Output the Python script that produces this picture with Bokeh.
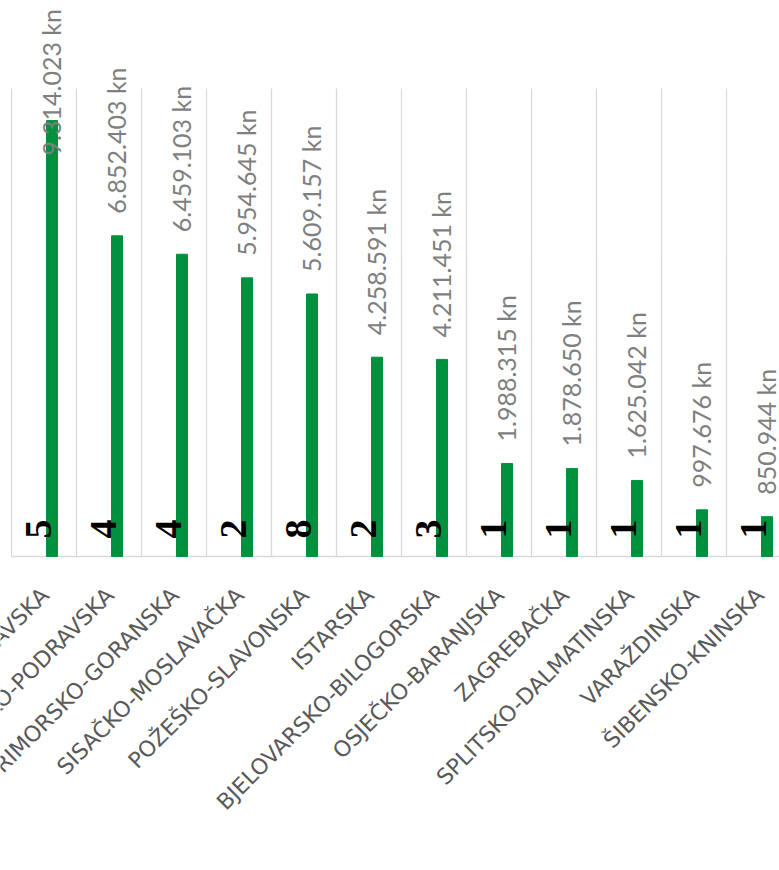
from bokeh.plotting import figure
from bokeh.models import ColumnDataSource, LabelSet, Range1d, FixedTicker, Grid
from bokeh.core.properties import value
from bokeh.embed import file_html
from bokeh.resources import INLINE

counties = ["BRODSKO-POSAVSKA", "VIROVITIČKO-PODRAVSKA", "PRIMORSKO-GORANSKA",
            "SISAČKO-MOSLAVAČKA", "POŽEŠKO-SLAVONSKA", "ISTARSKA",
            "BJELOVARSKO-BILOGORSKA", "OSJEČKO-BARANJSKA", "ZAGREBAČKA",
            "SPLITSKO-DALMATINSKA", "VARAŽDINSKA", "ŠIBENSKO-KNINSKA"]
amounts = [9314023, 6852403, 6459103, 5954645, 5609157, 4258591,
           4211451, 1988315, 1878650, 1625042, 997676, 850944]
counts = [5, 4, 4, 2, 8, 2, 3, 1, 1, 1, 1, 1]

Y_MAX = 10_000_000
LABEL_CAP = 8.1e6

# layout constants (pixels)
W, H = 779, 870
CAT_PX = 65.0
LEFT_PAD = 11
BASE_FROM_TOP = 556
PLOT_H = 468
upp = Y_MAX / PLOT_H

idx = list(range(len(counties)))
BAR_SHIFT = 8 / CAT_PX
src = ColumnDataSource(dict(
    x=idx,
    xb=[i + BAR_SHIFT for i in idx],
    amount=amounts,
    label_y=[min(v, LABEL_CAP) for v in amounts],
    amount_txt=[f"{v:,}".replace(",", ".") + " kn" for v in amounts],
    zero=[0] * len(idx),
    count_txt=[str(c) for c in counts],
    county=counties,
))

x0 = -0.5 - LEFT_PAD / CAT_PX
p = figure(frame_width=W, frame_height=H,
           x_range=Range1d(x0, x0 + W / CAT_PX),
           y_range=Range1d(-(H - BASE_FROM_TOP) * upp, BASE_FROM_TOP * upp),
           min_border=0, output_backend="svg", toolbar_location=None,
           x_axis_location=None, y_axis_location=None)
p.outline_line_color = None
p.background_fill_color = "white"
p.border_fill_color = "white"
p.xgrid.visible = False
p.ygrid.visible = False

bounds = [i - 0.5 for i in range(len(counties) + 1)]
try:
    vgrid = Grid(dimension=0, ticker=FixedTicker(ticks=bounds), cross_bounds=(0, Y_MAX),
                 grid_line_color="#d9d9d9", grid_line_width=1.3)
    hgrid = Grid(dimension=1, ticker=FixedTicker(ticks=[0]), cross_bounds=(-0.5, len(counties)),
                 grid_line_color="#d9d9d9", grid_line_width=1.5)
    p.add_layout(vgrid)
    p.add_layout(hgrid)
except AttributeError:
    p.segment(x0=bounds, x1=bounds, y0=[0] * len(bounds), y1=[Y_MAX] * len(bounds),
              line_color="#d9d9d9", line_width=1.3)
    p.segment(x0=[-0.5], x1=[len(counties)], y0=[0], y1=[0], line_color="#d9d9d9", line_width=1.5)

p.vbar(x="xb", top="amount", width=11 / CAT_PX, source=src, color="#00913f")

vals = LabelSet(x="xb", y="label_y", text="amount_txt", source=src, angle=90, angle_units="deg",
                text_align="left", text_baseline="middle", x_offset=-1, y_offset=22,
                text_font=value("Lato"), text_font_size="25px", text_color="#7f7f7f")
p.add_layout(vals)

cnts = LabelSet(x="x", y="zero", text="count_txt", source=src, angle=90, angle_units="deg",
                text_align="left", text_baseline="alphabetic", x_offset=6.5, y_offset=18,
                text_font=value("Liberation Sans Narrow"), text_font_style="bold",
                text_font_size="38px", text_color="black")
p.add_layout(cnts)

cats = LabelSet(x="x", y="zero", text="county", source=src, angle=45, angle_units="deg",
                text_align="right", text_baseline="middle", x_offset=1, y_offset=-35,
                text_font=value("DejaVu Sans"), text_font_size="22px", text_color="#595959")
p.add_layout(cats)

open("out.html", "w").write(file_html(p, INLINE))
